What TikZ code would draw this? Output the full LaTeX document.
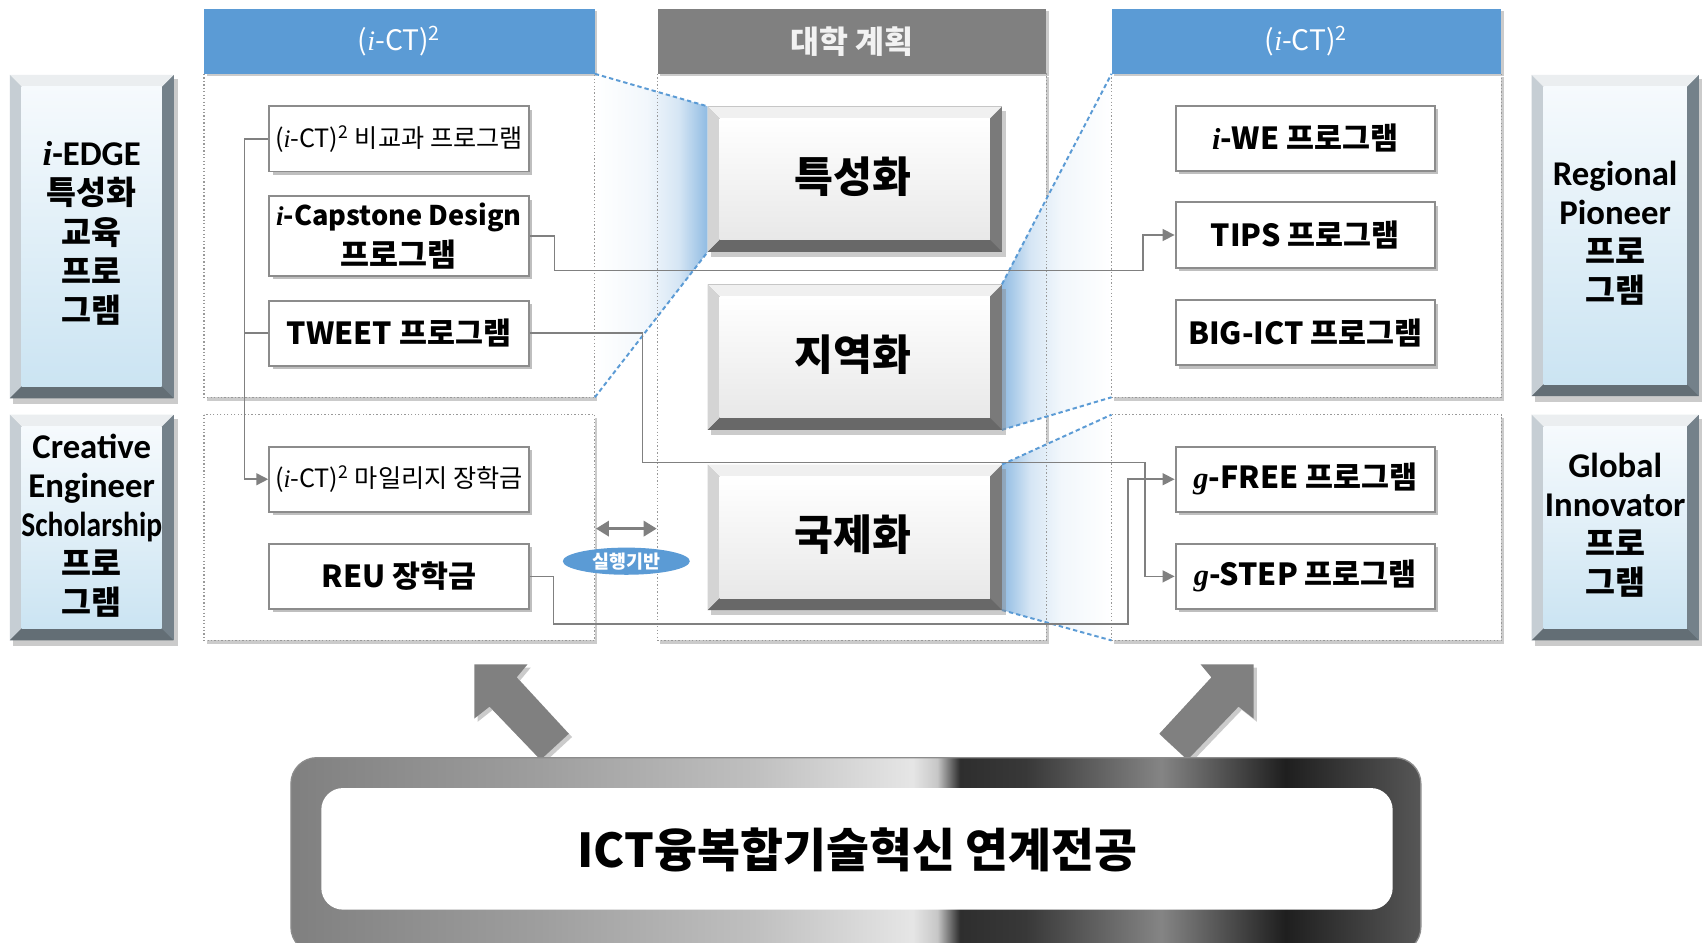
\documentclass[tikz,border=0pt]{standalone}
\usepackage{fontspec}
\usepackage{graphicx}
\usetikzlibrary{arrows.meta,shadows,shapes.geometric,calc}
\newfontfamily\kr{Noto Sans CJK KR}
\newfontfamily\lat{Carlito}
\newfontfamily\ser{Liberation Serif}
\newcommand\myi{{\ser\itshape i}}
\newcommand\myg{{\ser\itshape g}}
\newcommand\sidelat[1]{{\lat\fontsize{16}{18}\selectfont #1}}
\definecolor{hblue}{HTML}{5B9BD5}
\definecolor{hgray}{HTML}{808080}
\definecolor{sidetop}{HTML}{F6FAFD}
\definecolor{sidebot}{HTML}{CBE4F2}
\definecolor{sidelight}{HTML}{C6CED4}
\definecolor{sidedark}{HTML}{74818A}
\definecolor{midbot}{HTML}{E8E8E8}
\definecolor{midlight}{HTML}{D4D4D4}
\definecolor{middark}{HTML}{7A7A7A}
\definecolor{lnk}{HTML}{808080}
\pgfdeclarehorizontalshading{framesh}{100bp}{color(0bp)=(black!50); color(25bp)=(black!50); color(36bp)=(black!38); color(45.5bp)=(black!25); color(52.5bp)=(black!10); color(53.6bp)=(black!22); color(54.6bp)=(black!82); color(57.5bp)=(black!78); color(63.5bp)=(black!48); color(69bp)=(black!88); color(75bp)=(black!66); color(100bp)=(black!66)}
\pgfdeclarehorizontalshading{zoomtoR}{100bp}{color(0bp)=(white); color(25bp)=(white); color(48bp)=(hblue!8); color(62bp)=(hblue!25); color(75bp)=(hblue!68); color(100bp)=(hblue!68)}
\pgfdeclarehorizontalshading{zoomtoL}{100bp}{color(0bp)=(hblue!68); color(25bp)=(hblue!68); color(38bp)=(hblue!25); color(52bp)=(hblue!8); color(75bp)=(white); color(100bp)=(white)}
\newcommand\bevelbox[9]{%
  \fill[black!45, opacity=0.45] (#1+3,#2+4) rectangle (#3+4,#4+5);
  \fill[#9] (#1,#2) rectangle (#3,#4);
  \fill[#8] (#1,#2) -- (#1+#5,#2+#5) -- (#1+#5,#4-#5) -- (#1,#4) -- cycle;
  \fill[#8!35!white] (#1,#2) -- (#3,#2) -- (#3-#5,#2+#5) -- (#1+#5,#2+#5) -- cycle;
  \fill[#9!85!black] (#1,#4) -- (#1+#5,#4-#5) -- (#3-#5,#4-#5) -- (#3,#4) -- cycle;
  \shade[top color=#6, bottom color=#7] (#1+#5,#2+#5) rectangle (#3-#5,#4-#5);
}
\tikzset{
  prog/.style={draw=black!45, line width=0.9pt, fill=white, inner sep=0pt, align=center,
    minimum width=119.5pt, minimum height=30pt,
    drop shadow={shadow xshift=1.6pt, shadow yshift=-1.6pt, fill=black!45, opacity=0.55},
    font=\kr\bfseries\fontsize{14}{17}\selectfont},
  progsmall/.style={prog, font=\kr\fontsize{11.6}{13}\selectfont},
  sidetext/.style={align=center, font=\kr\bfseries\fontsize{15}{18}\selectfont},
  midtext/.style={font=\kr\bfseries\fontsize{19.5}{22}\selectfont},
  headtext/.style={text=white, font=\kr\fontsize{13}{15}\selectfont},
  panelfill/.style={fill=white, drop shadow={shadow xshift=1.2pt, shadow yshift=-1.5pt, fill=black!40, opacity=0.5}},
  panelborder/.style={draw=black!40, densely dotted, line width=0.6pt},
  zoomline/.style={draw=hblue, line width=0.9pt, dash pattern=on 2pt off 1.4pt},
  link/.style={draw=lnk, line width=0.7pt},
  linkarrow/.style={link, -{Triangle[length=5.5pt,width=5.5pt]}},
  blockarrow/.style={fill=hgray, drop shadow={shadow xshift=1.5pt, shadow yshift=-1.5pt, fill=black!40, opacity=0.5}}
}
\begin{document}
\begin{tikzpicture}[x=0.5pt,y=-0.5pt]
\useasboundingbox (0,0) rectangle (1568,868);
\fill[white] (0,0) rectangle (1568,868);

% side beveled boxes
\bevelbox{9}{69}{160}{367}{11}{sidetop}{sidebot}{sidelight}{sidedark}
\bevelbox{9}{382}{160}{590}{11}{sidetop}{sidebot}{sidelight}{sidedark}
\bevelbox{1411}{69}{1565}{365}{11}{sidetop}{sidebot}{sidelight}{sidedark}
\bevelbox{1411}{382}{1565}{590}{11}{sidetop}{sidebot}{sidelight}{sidedark}
\node[sidetext] (s1) at (84.5,215) {{\fontsize{16}{18}\selectfont\myi}\sidelat{-EDGE}\\특성화\\교육\\프로\\그램};
\node[sidetext] (s2) at (84.5,484) {\sidelat{Creative}\\\sidelat{Engineer}\\\scalebox{0.85}[1]{\sidelat{Scholarship}}\\프로\\그램};
\node[sidetext] (s3) at (1488,215) {\sidelat{Regional}\\\sidelat{Pioneer}\\프로\\그램};
\node[sidetext] (s4) at (1488,484) {\sidelat{Global}\\\sidelat{Innovator}\\프로\\그램};

% panels
\fill[panelfill] (188,68) rectangle (548,366);
\fill[panelfill] (188,382) rectangle (548,590);
\fill[panelfill] (606,68) rectangle (964,590);
\fill[panelfill] (1024,68) rectangle (1383,366);
\fill[panelfill] (1024,382) rectangle (1383,590);

% zoom corner coordinates
\coordinate (tL1) at (548,68);
\coordinate (tL2) at (548,366);
\coordinate (mA1) at (652,98);
\coordinate (mA2) at (652,232);
\coordinate (mB1) at (923,262);
\coordinate (mB2) at (923,396);
\coordinate (tR1) at (1024,68);
\coordinate (tR2) at (1024,366);
\coordinate (mC1) at (923,428);
\coordinate (mC2) at (923,562);
\coordinate (tR3) at (1024,382);
\coordinate (tR4) at (1024,590);

% zoom gradients
\path[shading=zoomtoR] (tL1) -- (mA1) -- (mA2) -- (tL2) -- cycle;
\path[shading=zoomtoL] (mB1) -- (tR1) -- (tR2) -- (mB2) -- cycle;
\path[shading=zoomtoL] (mC1) -- (tR3) -- (tR4) -- (mC2) -- cycle;

% panel borders
\draw[panelborder] (188,68) rectangle (548,366);
\draw[panelborder] (188,382) rectangle (548,590);
\draw[panelborder] (606,68) rectangle (964,590);
\draw[panelborder] (1024,68) rectangle (1383,366);
\draw[panelborder] (1024,382) rectangle (1383,590);

% headers
\fill[hblue, drop shadow={shadow xshift=1.2pt, shadow yshift=-1.2pt, fill=black!40, opacity=0.5}] (188,8) rectangle (548,68);
\fill[hgray, drop shadow={shadow xshift=1.2pt, shadow yshift=-1.2pt, fill=black!40, opacity=0.5}] (606,8) rectangle (964,68);
\fill[hblue, drop shadow={shadow xshift=1.2pt, shadow yshift=-1.2pt, fill=black!40, opacity=0.5}] (1024,8) rectangle (1383,68);
\node[headtext] (hL) at (368,38) {(\myi-CT)\textsuperscript{2}};
\node[headtext, font=\kr\bfseries\fontsize{14.5}{16}\selectfont, text=white!95!black] (hM) at (785,38) {대학 계획};
\node[headtext] (hR) at (1203.5,38) {(\myi-CT)\textsuperscript{2}};

% zoom lines
\draw[zoomline] (tL1) -- (mA1);
\draw[zoomline] (tL2) -- (mA2);
\draw[zoomline] (mB1) -- (tR1);
\draw[zoomline] (mB2) -- (tR2);
\draw[zoomline] (mC1) -- (tR3);
\draw[zoomline] (mC2) -- (tR4);

% middle beveled boxes
\bevelbox{652}{98}{923}{232}{11}{white}{midbot}{midlight}{middark}
\bevelbox{652}{262}{923}{396}{11}{white}{midbot}{midlight}{middark}
\bevelbox{652}{428}{923}{562}{11}{white}{midbot}{midlight}{middark}
\node[midtext] (m1) at (786,163) {특성화};
\node[midtext] (m2) at (786,327) {지역화};
\node[midtext] (m3) at (786,493) {국제화};

% program boxes
\node[progsmall] (lb1) at (367.5,128) {(\myi-CT)\textsuperscript{2} 비교과 프로그램};
\node[prog, minimum height=36.5pt] (lb2) at (367.5,217.5) {{\fontsize{12.5}{14}\selectfont\myi-Capstone Design}\\[2pt]{\fontsize{14.5}{17}\selectfont 프로그램}};
\node[prog] (lb3) at (367.5,307) {TWEET 프로그램};
\node[progsmall] (lb4) at (367.5,441.5) {(\myi-CT)\textsuperscript{2} 마일리지 장학금};
\node[prog] (lb5) at (367.5,531) {REU 장학금};
\node[prog] (rb1) at (1202.5,127.5) {\myi-WE 프로그램};
\node[prog] (rb2) at (1202.5,216.5) {TIPS 프로그램};
\node[prog] (rb3) at (1202.5,306.5) {BIG-ICT 프로그램};
\node[prog] (rb4) at (1202.5,441.5) {\myg-FREE 프로그램};
\node[prog] (rb5) at (1202.5,531) {\myg-STEP 프로그램};

% connectors
\coordinate (c1) at (1053,249);
\coordinate (c2) at (592,426);
\coordinate (c3) at (1055,426);
\coordinate (c4) at (510,575);
\coordinate (c5) at (1039,575);
\draw[linkarrow] (lb1.west) -- ++(-22,0) |- (lb4.west);
\draw[link] (lb3.west) -- ++(-22,0);
\draw[linkarrow] (lb2.east) -- ++(23,0) |- (c1) |- (rb2.west);
\draw[linkarrow] (lb3.east) -| (c2) -- (c3) |- (rb5.west);
\draw[linkarrow] (lb5.east) -| (c4) -- (c5) |- (rb4.west);

% execution base
\coordinate (da1) at (549,487);
\coordinate (da2) at (605,487);
\draw[draw=lnk, line width=1.3pt, {Triangle[length=6pt,width=7pt]}-{Triangle[length=6pt,width=7pt]}] (da1) -- (da2);
\node[ellipse, fill=hblue, minimum width=58.5pt, minimum height=12.5pt, inner sep=0pt, text=white, font=\kr\bfseries\fontsize{8.5}{10}\selectfont] (ex) at (577,517) {실행기반};

% block arrows
\fill[blockarrow] (437,612) -- (486,612) -- (476,624) -- (524,676) -- (498,700) -- (451,651) -- (437,662) -- cycle;
\fill[blockarrow] (1155,612) -- (1106,612) -- (1116,624) -- (1068,676) -- (1094,700) -- (1141,651) -- (1155,662) -- cycle;

% bottom frame
\begin{scope}
\clip (0,0) rectangle (1568,868);
\path[shading=framesh, rounded corners=12pt] (268,698) rectangle (1309,878);
\draw[black!45, line width=0.6pt, rounded corners=12pt] (268,698) rectangle (1309,878);
\fill[white, rounded corners=10pt] (296,726) rectangle (1283,838);
\end{scope}
\node[font=\kr\bfseries\fontsize{21.5}{24}\selectfont] (bt) at (790,783) {ICT융복합기술혁신 연계전공};
\end{tikzpicture}
\end{document}
